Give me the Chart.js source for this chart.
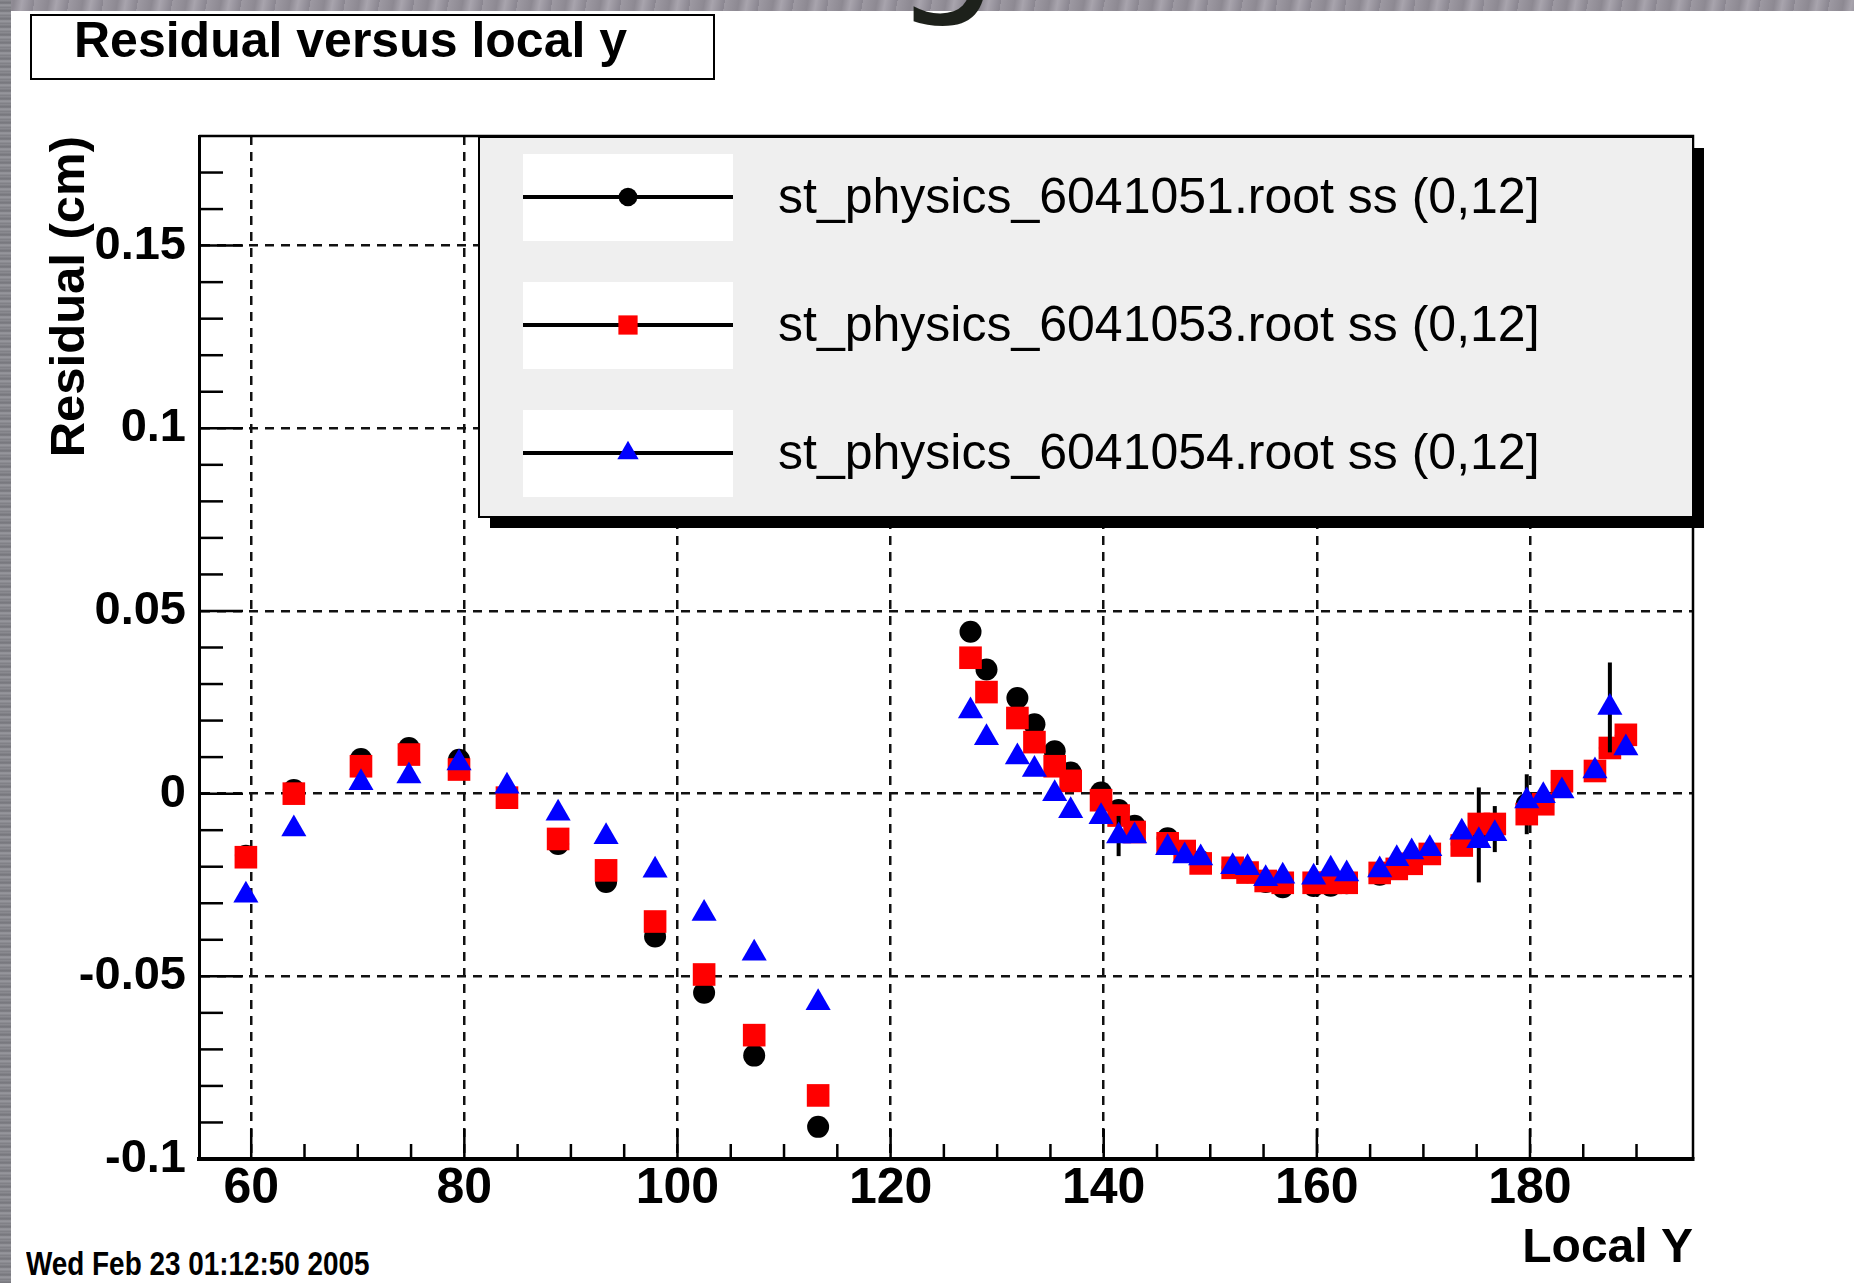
<!DOCTYPE html>
<html>
<head>
<meta charset="utf-8">
<script src="https://cdn.jsdelivr.net/npm/chart.js@4.4.1/dist/chart.umd.min.js"></script>
<style>
  html, body { margin:0; padding:0; background:#fff; width:1854px; height:1283px; overflow:hidden; position:relative; }
  #stripTop { position:absolute; left:0; top:0; width:1854px; height:11px;
    background: repeating-linear-gradient(100deg, #9d99a2 0px, #8d8992 14px, #a8a4ad 22px, #8a8690 34px); }
  #stripLeft { position:absolute; left:0; top:0; width:11px; height:1283px;
    background: repeating-linear-gradient(180deg, #8e8e94 0px, #74747a 3px, #9a9aa0 5px, #7c7c82 8px); }
  #g { position:absolute; left:893px; top:-153px; font: 170px/1 "DejaVu Sans", sans-serif; color:#1d211b; }
  #titleBox { position:absolute; left:30px; top:14px; width:681px; height:62px; border:2px solid #000; background:#fff; }
  #titleText { position:absolute; left:74px; top:15px; font: bold 50px/1 "Liberation Sans", Arial, sans-serif; color:#000; white-space:nowrap; }
  #date { position:absolute; left:26px; top:1246px; font: bold 34px/1 "Liberation Sans", Arial, sans-serif; color:#000; white-space:nowrap; transform: scaleX(0.82); transform-origin: 0 0; }
  #c { position:absolute; left:0; top:0; }
</style>
</head>
<body>
<div id="stripTop"></div>
<div id="stripLeft"></div>
<div id="g">g</div>
<div id="titleBox"></div>
<div id="titleText">Residual versus local y</div>
<div id="date">Wed Feb 23 01:12:50 2005</div>
<canvas id="c" width="1854" height="1283"></canvas>
<script>
// ---------------- data ----------------
const localY = [59.5, 64.0, 70.3, 74.8, 79.5, 84.0, 88.8, 93.3, 97.9, 102.5, 107.2, 113.2,
  127.5, 129.0, 131.9, 133.5, 135.4, 136.9, 139.75, 141.4, 142.9, 146.0, 147.6, 149.1,
  152.1, 153.5, 155.2, 156.8, 159.7, 161.3, 162.8, 165.9, 167.5, 168.9, 170.6, 173.6,
  175.2, 176.7, 179.7, 181.25, 183.0, 186.1, 187.5, 189.0];

const residual6041051 = [-0.0170, 0.0010, 0.0095, 0.0125, 0.0093, -0.0008, -0.0138, -0.0242, -0.0391, -0.0545, -0.0717, -0.0912,
  0.0443, 0.0340, 0.0262, 0.0190, 0.0116, 0.0058, 0.0003, -0.0045, -0.0088, -0.0122, -0.0158, -0.0185,
  -0.0203, -0.0215, -0.0242, -0.0256, -0.0253, -0.0252, -0.0245, -0.0222, -0.0205, -0.0190, -0.0163, -0.0138,
  -0.0113, -0.0097, -0.0029, -0.0025, 0.0030, 0.0063, 0.0125, 0.0160];

const residual6041053 = [-0.0174, 0.0000, 0.0075, 0.0107, 0.0066, -0.0011, -0.0124, -0.0210, -0.0350, -0.0495, -0.0661, -0.0826,
  0.0372, 0.0278, 0.0207, 0.0141, 0.0075, 0.0035, -0.0018, -0.0060, -0.0105, -0.0136, -0.0157, -0.0191,
  -0.0203, -0.0216, -0.0239, -0.0244, -0.0244, -0.0244, -0.0244, -0.0217, -0.0206, -0.0192, -0.0165, -0.0142,
  -0.0083, -0.0083, -0.0056, -0.0029, 0.0034, 0.0062, 0.0125, 0.0161];

const residual6041054 = [-0.0278, -0.0097, 0.0030, 0.0048, 0.0084, 0.0020, -0.0054, -0.0118, -0.0210, -0.0328, -0.0437, -0.0572,
  0.0226, 0.0153, 0.0100, 0.0066, 0.0000, -0.0047, -0.0063, -0.0116, -0.0116, -0.0148, -0.0171, -0.0176,
  -0.0200, -0.0203, -0.0233, -0.0226, -0.0229, -0.0207, -0.0220, -0.0209, -0.0178, -0.0160, -0.0151, -0.0106,
  -0.0129, -0.0110, -0.0020, -0.0006, 0.0007, 0.0062, 0.0236, 0.0125];

// visible error bars (others are hidden behind the markers)
const error6041051 = [0,0,0,0,0,0,0,0,0,0,0,0,
  0,0,0,0,0,0,0,0,0,0,0,0,
  0,0,0,0,0,0,0,0,0,0,0,0,
  0.0130, 0.0063, 0.0082, 0,0,0,0,0];
const error6041054 = [0,0,0,0,0,0,0,0,0,0,0,0,
  0,0,0,0,0,0,0,0.0055,0,0,0,0,
  0,0,0,0,0,0,0,0,0,0,0,0,
  0,0,0,0,0,0,0.0123,0];

const seriesLabels = ['st_physics_6041051.root ss (0,12]', 'st_physics_6041053.root ss (0,12]', 'st_physics_6041054.root ss (0,12]'];

const xTickValues = [60, 80, 100, 120, 140, 160, 180];
const xTickLabels = ['60', '80', '100', '120', '140', '160', '180'];
const xMinorTicks = [65, 70, 75, 85, 90, 95, 105, 110, 115, 125, 130, 135, 145, 150, 155, 165, 170, 175, 185, 190];
const yTickValues = [-0.1, -0.05, 0, 0.05, 0.1, 0.15];
const yTickLabels = ['-0.1', '-0.05', '0', '0.05', '0.1', '0.15'];
const yMinorTicks = [-0.09, -0.08, -0.07, -0.06, -0.04, -0.03, -0.02, -0.01, 0.01, 0.02, 0.03, 0.04,
  0.06, 0.07, 0.08, 0.09, 0.11, 0.12, 0.13, 0.14, 0.16, 0.17];

// ---------------- rendering ----------------
const FONT = '"Liberation Sans", Arial, Helvetica, sans-serif';

const errorBars = {
  id: 'errorBars',
  beforeDatasetDraw(chart, args) {
    const ds = chart.data.datasets[args.index];
    if (!ds.errors) return;
    const { ctx, scales: { x, y } } = chart;
    ctx.save();
    ctx.strokeStyle = '#000';
    ctx.lineWidth = 4;
    ds.data.forEach((p, i) => {
      const e = ds.errors[i];
      if (!e) return;
      const px = x.getPixelForValue(p.x);
      ctx.beginPath();
      ctx.moveTo(px, y.getPixelForValue(p.y + e));
      ctx.lineTo(px, y.getPixelForValue(p.y - e));
      ctx.stroke();
    });
    ctx.restore();
  }
};

const rootFrame = {
  id: 'rootFrame',
  beforeDatasetsDraw(chart) {
    const { ctx, chartArea: a, scales: { x, y } } = chart;
    const seg = (x1, y1, x2, y2) => { ctx.beginPath(); ctx.moveTo(x1, y1); ctx.lineTo(x2, y2); ctx.stroke(); };
    ctx.save();
    ctx.strokeStyle = '#000';
    ctx.lineWidth = 2.5;
    yTickValues.forEach(v => { const py = y.getPixelForValue(v); seg(a.left, py, a.left + 44, py); });
    yMinorTicks.forEach(v => { const py = y.getPixelForValue(v); seg(a.left, py, a.left + 24, py); });
    xTickValues.forEach(v => { const px = x.getPixelForValue(v); seg(px, a.bottom, px, a.bottom - 30); });
    xMinorTicks.forEach(v => { const px = x.getPixelForValue(v); seg(px, a.bottom, px, a.bottom - 15); });
    ctx.lineWidth = 2.5;
    ctx.beginPath();
    ctx.moveTo(a.left, a.top); ctx.lineTo(a.right, a.top); ctx.lineTo(a.right, a.bottom);
    ctx.stroke();
    ctx.restore();
  }
};

const rootLegend = {
  id: 'rootLegend',
  afterDatasetsDraw(chart) {
    const { ctx, chartArea: a } = chart;
    const L = a.left + 280, T = a.top + 1, R = a.right, B = a.top + 381;
    ctx.save();
    ctx.fillStyle = '#000';
    ctx.fillRect(L + 11, T + 11, R - L, B - T);
    ctx.fillStyle = '#efefef';
    ctx.fillRect(L, T, R - L, B - T);
    ctx.lineWidth = 2;
    ctx.strokeStyle = '#000';
    ctx.strokeRect(L, T, R - L, B - T);
    chart.data.datasets.forEach((ds, i) => {
      const top = T + 17 + i * 128;
      ctx.fillStyle = '#fff';
      ctx.fillRect(L + 44, top, 210, 87);
      const cy = top + 43;
      ctx.strokeStyle = '#000';
      ctx.lineWidth = 4;
      ctx.beginPath(); ctx.moveTo(L + 44, cy); ctx.lineTo(L + 254, cy); ctx.stroke();
      ctx.fillStyle = ds.backgroundColor;
      Chart.helpers.drawPoint(ctx, { pointStyle: ds.pointStyle, radius: ds.pointRadius * 0.85, borderWidth: 0, rotation: 0 }, L + 149, cy);
      ctx.fillStyle = '#000';
      ctx.font = '50px ' + FONT;
      ctx.textBaseline = 'middle';
      ctx.textAlign = 'left';
      ctx.fillText(ds.label, L + 299, cy + 2);
    });
    ctx.restore();
  }
};

const mk = (ys) => localY.map((x, i) => ({ x: x, y: ys[i] }));

new Chart(document.getElementById('c'), {
  type: 'scatter',
  data: {
    datasets: [
      { label: seriesLabels[0], data: mk(residual6041051), errors: error6041051,
        pointStyle: 'circle', pointRadius: 11, pointHoverRadius: 11, backgroundColor: '#000000', borderWidth: 0, order: 3 },
      { label: seriesLabels[1], data: mk(residual6041053),
        pointStyle: 'rect', pointRadius: 16, pointHoverRadius: 16, backgroundColor: '#ff0000', borderWidth: 0, order: 2 },
      { label: seriesLabels[2], data: mk(residual6041054), errors: error6041054,
        pointStyle: 'triangle', pointRadius: 14.5, pointHoverRadius: 14.5, backgroundColor: '#0000ff', borderWidth: 0, order: 1 }
    ]
  },
  options: {
    responsive: false,
    devicePixelRatio: 1,
    animation: false,
    events: [],
    layout: { padding: { left: 0, top: 136, right: 161, bottom: 0 } },
    plugins: { legend: { display: false }, tooltip: { enabled: false }, title: { display: false } },
    scales: {
      x: {
        type: 'linear', position: 'bottom', min: 55.1, max: 195.3,
        afterBuildTicks: s => { s.ticks = xTickValues.map(v => ({ value: v })); },
        afterFit: s => { s.height = 124; },
        ticks: { callback: (v, i) => xTickLabels[i], font: { family: FONT, size: 50, weight: 'bold' }, color: '#000', padding: 0, maxRotation: 0, autoSkip: false },
        grid: { color: '#111', lineWidth: 2.5, drawTicks: false },
        border: { display: true, color: '#000', width: 4, dash: [9, 7] },
        title: { display: true, text: 'Local Y', align: 'end', color: '#000', font: { family: FONT, size: 48, weight: 'bold' }, padding: { top: 0, bottom: 5 } }
      },
      y: {
        type: 'linear', position: 'left', min: -0.1, max: 0.18,
        afterBuildTicks: s => { s.ticks = yTickValues.map(v => ({ value: v })); },
        afterFit: s => { s.width = 199; },
        ticks: { callback: (v, i) => yTickLabels[i], font: { family: FONT, size: 47, weight: 'bold' }, color: '#000', padding: 13 },
        grid: { color: '#111', lineWidth: 2.5, drawTicks: false },
        border: { display: true, color: '#000', width: 3, dash: [9, 7] },
        title: { display: true, text: 'Residual (cm)', align: 'end', color: '#000', font: { family: FONT, size: 49, weight: 'bold' }, padding: { top: 41, bottom: 0 } }
      }
    }
  },
  plugins: [rootFrame, errorBars, rootLegend]
});
</script>
</body>
</html>
